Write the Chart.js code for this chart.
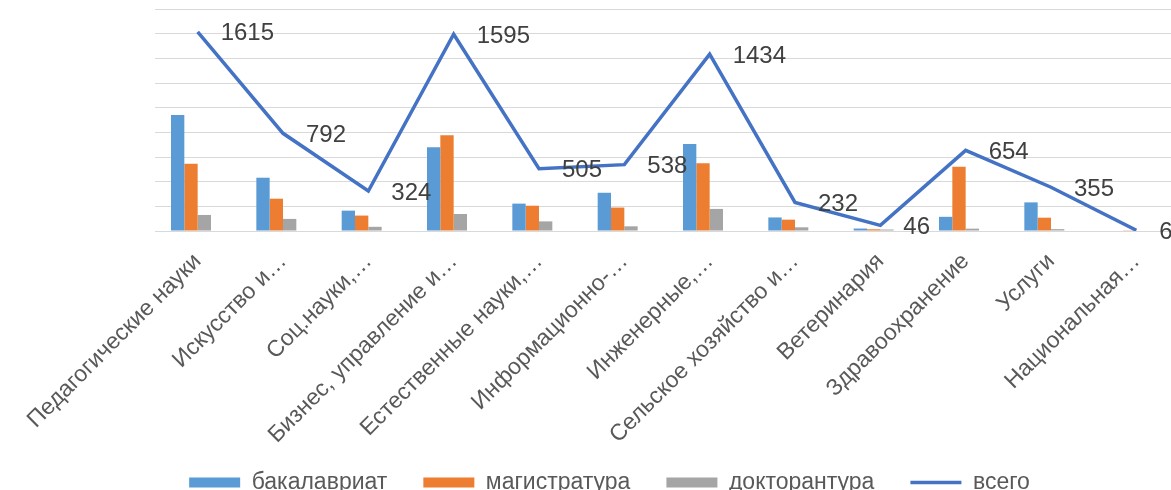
<!DOCTYPE html>
<html>
<head>
<meta charset="utf-8">
<script src="https://cdn.jsdelivr.net/npm/chart.js@4.4.1/dist/chart.umd.min.js"></script>
<style>
  html, body { margin: 0; padding: 0; background: #fff; overflow: hidden; }
  #wrap { position: relative; width: 1180px; height: 490px; }
</style>
</head>
<body>
<div id="wrap"><canvas id="canvas"></canvas></div>
<script>
const categories = [
    'Педагогические науки', 'Искусство и…', 'Соц.науки,…', 'Бизнес, управление и…',
    'Естественные науки,…', 'Информационно-…', 'Инженерные,…', 'Сельское хозяйство и…',
    'Ветеринария', 'Здравоохранение', 'Услуги', 'Национальная…'
];
const bachelor = [940, 432, 165, 680, 222, 310, 705, 110, 20, 115, 232, 4];
const master   = [545, 262, 125, 777, 205, 190, 550, 92, 14, 520, 108, 2];
const doctoral = [130, 98, 34, 138, 78, 38, 179, 30, 12, 19, 15, 0];
const total    = [1615, 792, 324, 1595, 505, 538, 1434, 232, 46, 654, 355, 6];
const yMax = 1800;
const yStep = 200;

const FONT = '"Liberation Sans", Arial, sans-serif';

// value labels of the "всего" line, to the right of each point
const valueLabels = {
    id: 'valueLabels',
    afterDatasetsDraw(chart) {
        const meta = chart.getDatasetMeta(3);
        const c = chart.ctx;
        c.save();
        c.font = '24px ' + FONT;
        c.fillStyle = '#404040';
        c.textBaseline = 'middle';
        meta.data.forEach((pt, i) => {
            c.fillText(String(total[i]), pt.x + 23, pt.y + 2);
        });
        c.restore();
    }
};

// the legend box sits partly below the canvas (negative bottom padding); pull its row back up
const legendShift = {
    id: 'legendShift',
    afterLayout(chart) {
        chart.legend.top -= 21;
        chart.legend.bottom -= 21;
    }
};

const ctx = document.getElementById('canvas');

new Chart(ctx, {
    type: 'bar',
    data: {
        labels: categories,
        datasets: [
            { label: 'бакалавриат', data: bachelor, backgroundColor: '#5B9BD5', pointStyle: 'rect', order: 2 },
            { label: 'магистратура', data: master, backgroundColor: '#ED7D31', pointStyle: 'rect', order: 2 },
            { label: 'докторантура', data: doctoral, backgroundColor: '#A5A5A5', pointStyle: 'rect', order: 2 },
            {
                type: 'line', label: 'всего', data: total,
                borderColor: '#4472C4', backgroundColor: '#4472C4',
                borderWidth: 3.5, pointRadius: 0, pointStyle: 'line',
                tension: 0, order: 1
            },
            // empty slot: Excel keeps room for a 4th bar on the right of each group
            { label: '', data: [], backgroundColor: 'rgba(0,0,0,0)', order: 2 }
        ]
    },
    options: {
        responsive: true,
        maintainAspectRatio: false,
        animation: false,
        layout: { padding: { top: 9, right: 1, left: 40, bottom: -35 } },
        datasets: {
            bar: { categoryPercentage: 0.625, barPercentage: 1.0 }
        },
        scales: {
            x: {
                grid: { display: false },
                border: { color: '#D9D9D9' },
                afterFit(scale) { scale.height = 225; },
                ticks: {
                    autoSkip: false, maxRotation: 45, minRotation: 45, padding: 9,
                    color: '#595959', font: { family: FONT, size: 23 }
                }
            },
            y: {
                min: 0, max: yMax,
                border: { display: false },
                grid: { color: '#D9D9D9', drawTicks: false },
                afterFit(scale) { scale.width = 115; },
                ticks: { display: false, stepSize: yStep }
            }
        },
        plugins: {
            tooltip: { enabled: false },
            legend: {
                position: 'bottom',
                labels: {
                    usePointStyle: true, pointStyleWidth: 51, boxHeight: 10,
                    padding: 36, color: '#595959',
                    font: { family: FONT, size: 23 },
                    filter: (item) => item.text !== '',
                    sort: (a, b) => a.datasetIndex - b.datasetIndex
                }
            }
        }
    },
    plugins: [valueLabels, legendShift]
});
</script>
</body>
</html>
